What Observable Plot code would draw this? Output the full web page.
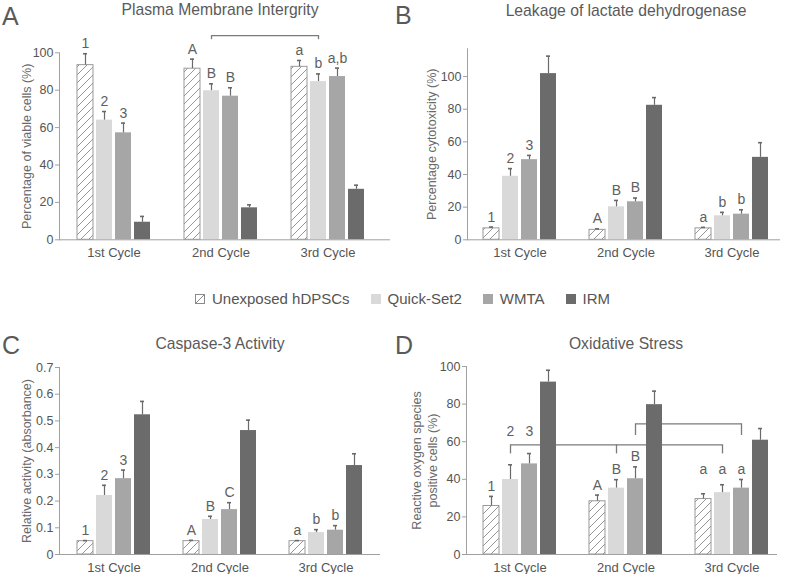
<!DOCTYPE html>
<html><head><meta charset="utf-8">
<script src="https://cdn.jsdelivr.net/npm/d3@7"></script>
<script src="https://cdn.jsdelivr.net/npm/@observablehq/plot@0.6"></script>
<style>
body{margin:0;background:#fff;font-family:"Liberation Sans",Arial,sans-serif;color:#555}
#root{position:relative;width:787px;height:574px;overflow:hidden;background:#fff}
.abs{position:absolute;line-height:1;white-space:nowrap}
.letter{font-size:25px;color:#5a5a5a}
.title{font-size:15.7px;color:#5a5a5a;transform:translateX(-50%)}
#legend{position:absolute;left:195px;top:291px;display:flex;align-items:center;font-size:15px;color:#555;line-height:16px}
#legend .item{display:flex;align-items:center;margin-right:21px}
#legend .sw{width:10px;height:10px;margin-right:7px;box-sizing:border-box}
</style></head>
<body>
<svg width="0" height="0" style="position:absolute">
  <defs>
    <pattern id="hatch" patternUnits="userSpaceOnUse" width="8" height="8">
      <path d="M-2,2 L2,-2 M0,8 L8,0 M6,10 L10,6" stroke="#8a8a8a" stroke-width="0.9"/>
    </pattern>
  </defs>
</svg>
<div id="root"></div>
<script>
// ---------- shared categories ----------
const cycles = ["1st Cycle", "2nd Cycle", "3rd Cycle"];
const groups = ["Unexposed hDPSCs", "Quick-Set2", "WMTA", "IRM"];
const groupFills = ["url(#hatch)", "#d9d9d9", "#a6a6a6", "#6b6b6b"];

// ---------- A: Plasma membrane integrity (% viable cells) ----------
const viableMean = [[93.4, 64.0, 57.2, 9.4], [91.5, 79.7, 76.8, 17.1], [92.5, 84.6, 87.3, 27.0]];
const viableSD   = [[6.1, 4.6, 5.2, 3.1], [5.1, 3.7, 4.5, 1.6], [3.4, 4.1, 4.5, 2.2]];
const viableLabels = [["1", "2", "3", ""], ["A", "B", "B", ""], ["a", "b", "a,b", ""]];
const viableBrackets = [{group: "Quick-Set2", at: ["2nd Cycle", "3rd Cycle"], level: 109.2, tip: 107.0}];
const viableTicks = [0, 20, 40, 60, 80, 100];

// ---------- B: LDH leakage (% cytotoxicity) ----------
const ldhMean = [[7.0, 38.9, 49.1, 101.8], [6.1, 20.2, 23.3, 82.4], [7.0, 14.7, 15.7, 50.5]];
const ldhSD   = [[0.8, 4.7, 2.6, 10.7], [0.6, 3.9, 2.3, 4.7], [0.6, 2.1, 2.7, 9.0]];
const ldhLabels = [["1", "2", "3", ""], ["A", "B", "B", ""], ["a", "b", "b", ""]];
const ldhTicks = [0, 20, 40, 60, 80, 100];

// ---------- C: Caspase-3 activity (absorbance) ----------
const caspMean = [[0.050, 0.221, 0.284, 0.523], [0.050, 0.131, 0.168, 0.464], [0.050, 0.082, 0.091, 0.333]];
const caspSD   = [[0.002, 0.038, 0.032, 0.050], [0.003, 0.012, 0.026, 0.039], [0.002, 0.011, 0.017, 0.044]];
const caspLabels = [["1", "2", "3", ""], ["A", "B", "C", ""], ["a", "b", "b", ""]];
const caspTicks = [0, 0.1, 0.2, 0.3, 0.4, 0.5, 0.6, 0.7];

// ---------- D: Oxidative stress (% ROS positive cells) ----------
const rosMean = [[25.8, 39.9, 48.2, 91.7], [28.3, 35.3, 40.3, 79.7], [29.5, 32.9, 35.3, 60.8]];
const rosSD   = [[5.1, 7.8, 5.5, 6.3], [3.3, 4.5, 6.3, 7.2], [2.8, 4.2, 4.6, 6.2]];
const rosLabels = [["1", "2", "3", ""], ["A", "B", "B", ""], ["a", "a", "a", ""]];
const rosLabelAnchor = [[null, 60, 60, null], [null, null, null, null], [39.9, 39.9, 39.9, null]];
const rosBrackets = [
  {group: "Quick-Set2", at: ["1st Cycle", "2nd Cycle", "3rd Cycle"], level: 58.3, tip: 53.5},
  {group: "WMTA", at: ["2nd Cycle", "3rd Cycle"], level: 69.5, tip: 63.3}
];
const rosTicks = [0, 20, 40, 60, 80, 100];

// ---------- helpers ----------
function makeRows(means, sds, labels, anchors) {
  const rows = [];
  cycles.forEach((c, i) => groups.forEach((g, k) => {
    const top = means[i][k] + sds[i][k];
    const a = anchors && anchors[i][k] != null ? anchors[i][k] : top;
    rows.push({cycle: c, group: g, k, mean: means[i][k], top, label: labels[i][k], anchor: a});
  }));
  return rows;
}
// bar layout inside each cycle band (band width 73): bar 16, gap 3
const BAR_STEP = 19, BAND = 73, BAR_W = 16;
const slotInsets = (k, extra = 0) => ({insetLeft: BAR_STEP * k + extra, insetRight: BAND - BAR_STEP * k - BAR_W + extra});
const slotDx = k => BAR_STEP * k + BAR_W / 2 - BAND / 2;

const FONT = '"Liberation Sans", Arial, sans-serif';

function panel(cfg) {
  const {rows, brackets = [], yDomain, yTicks, tickFormat, yLabel, yLabelDx, yLabelDy = 0,
         width, height, margin, band} = cfg;
  const marks = [];
  // significance brackets (behind bars)
  for (const b of brackets) {
    const dx = slotDx(groups.indexOf(b.group));
    marks.push(Plot.link([b], {x1: d => d.at[0], x2: d => d.at[d.at.length - 1], y1: "level", y2: "level",
      dx, stroke: "#7a7a7a", strokeWidth: 1.3}));
    marks.push(Plot.ruleX(b.at.map(c => ({cycle: c, level: b.level, tip: b.tip})),
      {x: "cycle", y1: "level", y2: "tip", dx, stroke: "#7a7a7a", strokeWidth: 1.3}));
  }
  groups.forEach((g, k) => {
    const d = rows.filter(r => r.k === k);
    marks.push(Plot.barY(d, {x: "cycle", y: "mean", fill: groupFills[k],
      stroke: k === 0 ? "#9a9a9a" : "none", strokeWidth: 1, ...slotInsets(k)}));
    marks.push(Plot.ruleX(d, {x: "cycle", y1: "mean", y2: "top", dx: slotDx(k), stroke: "#6a6a6a", strokeWidth: 1.2}));
    marks.push(Plot.tickY(d, {x: "cycle", y: "top", stroke: "#6a6a6a", strokeWidth: 1.6, ...slotInsets(k, 6)}));
    marks.push(Plot.text(d.filter(r => r.label), {x: "cycle", y: "anchor", text: "label", dx: slotDx(k), dy: -10,
      fontSize: 14, fill: "#5f5f5f"}));
  });
  marks.push(Plot.ruleY([0], {stroke: "#a0a0a0"}));
  marks.push(Plot.frame({anchor: "left", stroke: "#a0a0a0"}));
  marks.push(Plot.axisY({ticks: yTicks, tickFormat, tickSize: 4, tickPadding: 2, stroke: "#a0a0a0", fill: "#555",
    fontSize: 12.5, label: null}));
  marks.push(Plot.axisX({tickSize: 0, tickPadding: 8, fontSize: 13, fill: "#555", label: null}));
  marks.push(Plot.text([yLabel], {frameAnchor: "left", text: d => d, rotate: -90, textAnchor: "middle",
    lineAnchor: "middle", dx: yLabelDx, dy: yLabelDy, fontSize: 12.5, fill: "#6a6a6a", lineHeight: 1.3}));
  return Plot.plot({
    width, height,
    marginLeft: margin[0], marginRight: margin[1], marginTop: margin[2], marginBottom: margin[3],
    x: {domain: cycles, paddingInner: band[0], paddingOuter: band[1], align: band[2]},
    y: {domain: yDomain},
    style: {fontFamily: FONT, fontSize: "12.5px", color: "#555", background: "transparent", overflow: "visible"},
    marks
  });
}

const root = document.getElementById("root");
function place(node, left, top) {
  const div = document.createElement("div");
  div.style.position = "absolute"; div.style.left = left + "px"; div.style.top = top + "px";
  div.appendChild(node); root.appendChild(div);
}
function addText(cls, text, left, top) {
  const div = document.createElement("div");
  div.className = "abs " + cls; div.textContent = text;
  div.style.left = left + "px"; div.style.top = top + "px";
  root.appendChild(div);
}

// Panel A
place(panel({
  rows: makeRows(viableMean, viableSD, viableLabels), brackets: viableBrackets,
  yDomain: [0, 100], yTicks: viableTicks, tickFormat: d3.format("d"),
  yLabel: "Percentage of viable cells (%)", yLabelDx: -34,
  width: 393, height: 270, margin: [59, 3, 52.3, 30.7], band: [0.3178, 0.2056, 0.398]
}), 0, 0);
// Panel B
place(panel({
  rows: makeRows(ldhMean, ldhSD, ldhLabels),
  yDomain: [0, 117], yTicks: ldhTicks, tickFormat: d3.format("d"),
  yLabel: "Percentage cytotoxicity (%)", yLabelDx: -37,
  width: 394, height: 270, margin: [74, 7, 48.3, 30.7], band: [0.3113, 0.132, 0.589]
}), 393, 0);
// Panel C
place(panel({
  rows: makeRows(caspMean, caspSD, caspLabels),
  yDomain: [0, 0.7], yTicks: caspTicks, tickFormat: d => d === 0 ? "0" : d3.format(".1f")(d),
  yLabel: "Relative activity (absorbance)", yLabelDx: -34,
  width: 393, height: 274, margin: [59, 13, 67, 20], band: [0.3146, 0.1643, 0.5]
}), 0, 300);
// Panel D
place(panel({
  rows: makeRows(rosMean, rosSD, rosLabels, rosLabelAnchor), brackets: rosBrackets,
  yDomain: [0, 100], yTicks: rosTicks, tickFormat: d3.format("d"),
  yLabel: "Reactive oxygen species\npositive cells (%)", yLabelDx: -43,
  width: 394, height: 274, margin: [73, 10, 66, 20], band: [0.3113, 0.1226, 0.635]
}), 393, 300);

// titles and panel letters
addText("letter", "A", 2, 4);
addText("letter", "B", 395, 3);
addText("letter", "C", 2, 333);
addText("letter", "D", 395, 333);
addText("title", "Plasma Membrane Intergrity", 220, 2);
addText("title", "Leakage of lactate dehydrogenase", 626, 3);
addText("title", "Caspase-3 Activity", 220, 336);
addText("title", "Oxidative Stress", 626, 336);

// legend
const legend = document.createElement("div");
legend.id = "legend";
groups.forEach((g, k) => {
  const item = document.createElement("div"); item.className = "item";
  const sw = document.createElement("div"); sw.className = "sw";
  if (k === 0) {
    sw.innerHTML = '<svg width="10" height="10" style="display:block"><rect x="0.5" y="0.5" width="9" height="9" fill="#fff" stroke="#8a8a8a"/><path d="M1,9 L9,1" stroke="#8a8a8a"/></svg>';
  } else sw.style.background = groupFills[k];
  const t = document.createElement("span"); t.textContent = g;
  item.appendChild(sw); item.appendChild(t); legend.appendChild(item);
});
root.appendChild(legend);
</script>
</body></html>
